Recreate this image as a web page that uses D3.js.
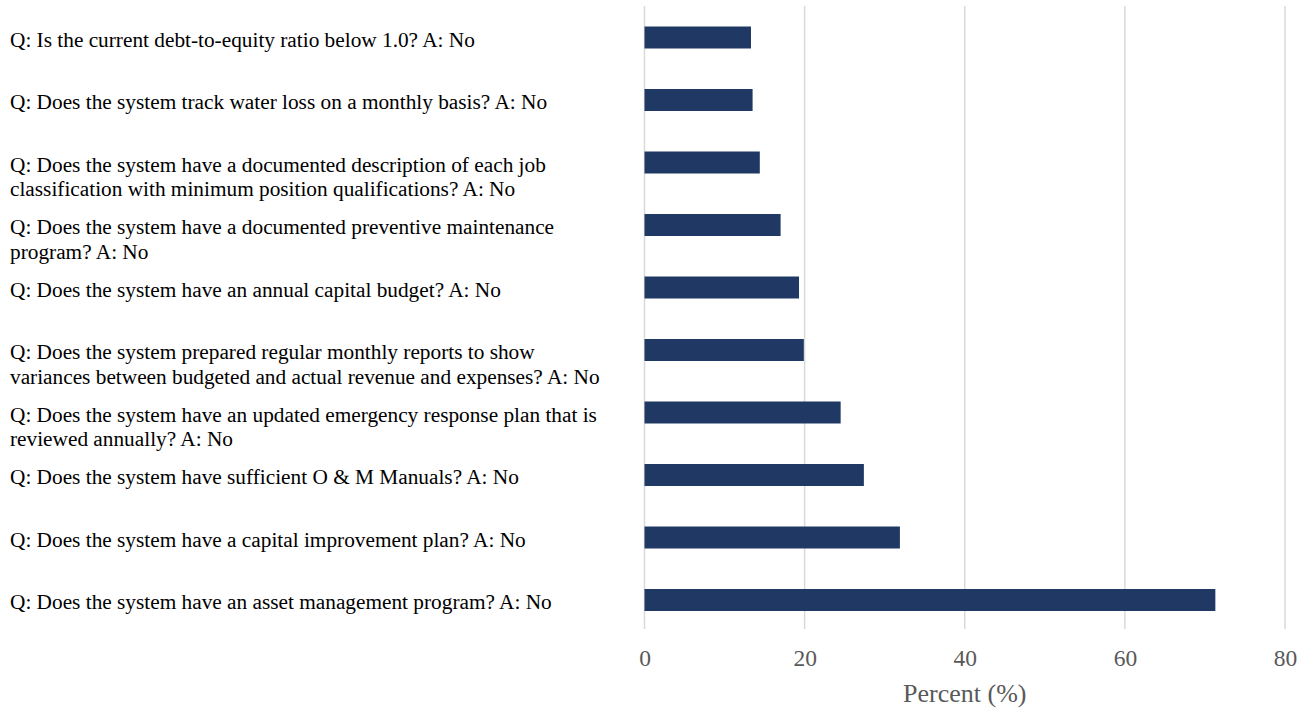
<!DOCTYPE html>
<html>
<head>
<meta charset="utf-8">
<script src="https://cdn.jsdelivr.net/npm/d3@7"></script>
<style>
  html, body { margin: 0; padding: 0; background: #fff; }
  svg { display: block; }
</style>
</head>
<body>
<svg id="chart" width="1314" height="713"></svg>
<script>
// Survey questions (line breaks as shown in the label column)
const questions = [
  "Q: Is the current debt-to-equity ratio below 1.0? A: No",
  "Q: Does the system track water loss on a monthly basis? A: No",
  "Q: Does the system have a documented description of each job\nclassification with minimum position qualifications? A: No",
  "Q: Does the system have a documented preventive maintenance\nprogram? A: No",
  "Q: Does the system have an annual capital budget? A: No",
  "Q: Does the system prepared regular monthly reports to show\nvariances between budgeted and actual revenue and expenses? A: No",
  "Q: Does the system have an updated emergency response plan that is\nreviewed annually? A: No",
  "Q: Does the system have sufficient O & M Manuals? A: No",
  "Q: Does the system have a capital improvement plan? A: No",
  "Q: Does the system have an asset management program? A: No"
];

// Share of systems answering "No" (%)
const percentNo = [13.3, 13.5, 14.4, 17.0, 19.3, 19.9, 24.5, 27.4, 31.9, 71.3];

const xTicks = [0, 20, 40, 60, 80];
const xTitle = "Percent (%)";

const svg = d3.select("#chart");
const serif = "'Liberation Serif', 'Times New Roman', serif";

const plot = { left: 644.5, right: 1285, top: 6.25, bottom: 631.25 };

const x = d3.scaleLinear().domain([0, 80]).range([plot.left, plot.right]);
const y = d3.scaleBand()
  .domain(questions)
  .range([plot.top, plot.bottom])
  .paddingInner(0.648)
  .paddingOuter(0.324);

// vertical gridlines
svg.append("g")
  .selectAll("line")
  .data(xTicks)
  .join("line")
  .attr("x1", d => x(d))
  .attr("x2", d => x(d))
  .attr("y1", 6)
  .attr("y2", 629)
  .attr("stroke", "#d9d9d9")
  .attr("stroke-width", 1.5);

// bars
svg.append("g")
  .selectAll("rect")
  .data(questions)
  .join("rect")
  .attr("x", x(0))
  .attr("y", d => y(d))
  .attr("width", (d, i) => x(percentNo[i]) - x(0))
  .attr("height", y.bandwidth())
  .attr("fill", "#203864");

// x axis tick labels
const xAxis = d3.axisBottom(x).tickValues(xTicks).tickSize(0).tickPadding(0);
const gx = svg.append("g")
  .attr("transform", "translate(0,658)")
  .call(xAxis);
gx.select(".domain").remove();
gx.selectAll("text")
  .attr("dy", "0.35em")
  .attr("font-family", serif)
  .attr("font-size", 23.5)
  .attr("fill", "#595959");

// axis title
svg.append("text")
  .attr("x", (plot.left + plot.right) / 2)
  .attr("y", 693)
  .attr("dy", "0.35em")
  .attr("text-anchor", "middle")
  .attr("font-family", serif)
  .attr("font-size", 26)
  .attr("fill", "#595959")
  .text(xTitle);

// category labels
const lineHeight = 24.5;
const labels = svg.append("g")
  .attr("font-family", serif)
  .attr("font-size", 21.3)
  .attr("fill", "#000");

labels.selectAll("text")
  .data(questions)
  .join("text")
  .attr("x", 10)
  .attr("y", d => y(d) + y.bandwidth() / 2 + 2)
  .each(function (d) {
    const lines = d.split("\n");
    d3.select(this).selectAll("tspan")
      .data(lines)
      .join("tspan")
      .attr("x", 10)
      .attr("dy", (l, i) => i === 0 ? "0.35em" : lineHeight)
      .text(l => l);
  });
</script>
</body>
</html>
